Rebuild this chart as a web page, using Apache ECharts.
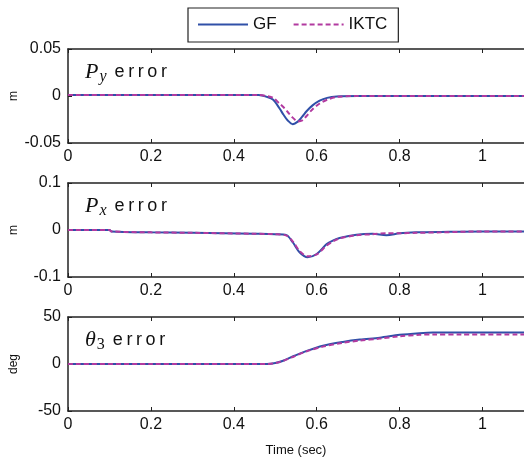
<!DOCTYPE html>
<html>
<head>
<meta charset="utf-8">
<script src="https://cdn.jsdelivr.net/npm/echarts@6/dist/echarts.min.js"></script>
<style>
  html, body { margin: 0; padding: 0; background: #fff; }
  #chart { width: 524px; height: 459px; }
</style>
</head>
<body>
<div id="chart"></div>
<script>
// time samples and error values
const tPy = [0, 0.2, 0.4, 0.46, 0.48, 0.495, 0.51, 0.52, 0.53, 0.542, 0.555, 0.565, 0.576, 0.59, 0.607, 0.625, 0.648, 0.7, 0.9, 1.1];
const gfPy = [0.001, 0.001, 0.001, 0.001, -0.001, -0.004, -0.013, -0.02, -0.026, -0.03, -0.027, -0.022, -0.016, -0.01, -0.005, -0.002, -0.0005, 0, 0, 0];
const iktcPy = [0.001, 0.001, 0.001, 0.001, 0, -0.002, -0.008, -0.012, -0.017, -0.023, -0.027, -0.026, -0.021, -0.014, -0.008, -0.004, -0.001, 0, 0, 0];

const tPx = [0, 0.1, 0.105, 0.2, 0.3, 0.45, 0.5, 0.527, 0.542, 0.559, 0.578, 0.6, 0.624, 0.64, 0.655, 0.696, 0.735, 0.768, 0.8, 0.84, 0.9, 1.0, 1.1];
const gfPx = [0, 0, -0.003, -0.005, -0.006, -0.008, -0.009, -0.011, -0.026, -0.048, -0.058, -0.051, -0.03, -0.022, -0.017, -0.01, -0.008, -0.011, -0.007, -0.005, -0.004, -0.003, -0.003];
const iktcPx = [0, 0, -0.003, -0.005, -0.006, -0.008, -0.009, -0.012, -0.024, -0.045, -0.056, -0.052, -0.033, -0.024, -0.018, -0.011, -0.009, -0.007, -0.007, -0.006, -0.005, -0.003, -0.003];

const tTh = [0, 0.2, 0.4, 0.48, 0.5, 0.519, 0.545, 0.576, 0.615, 0.663, 0.704, 0.752, 0.8, 0.848, 0.88, 0.95, 1.1];
const gfTh = [0, 0, 0, 0, 1, 3.5, 8.5, 14, 19.5, 23.5, 26, 28, 31, 32.8, 33.5, 33.5, 33.5];
const iktcTh = [0, 0, 0, 0, 1, 3.3, 8, 13.5, 18.5, 22.5, 25, 27, 29.5, 31, 31.5, 31.5, 31.5];

const yLimits = [0.05, 0.1, 50];
const yNames = ['m', 'm', 'deg'];
const xTicks = [0, 0.2, 0.4, 0.6, 0.8, 1];

const blue = '#3050a8';
const magenta = '#b23aa0';
const axisColor = '#222';
const tops = [49, 183, 317];

const zip = (t, v) => t.map((x, i) => [x, v[i]]);

const grids = tops.map(top => ({
  left: 68, right: 0, top: top, height: 94,
  containLabel: false, outerBoundsMode: 'none'
}));

const xAxes = [];
const yAxes = [];
tops.forEach((top, i) => {
  xAxes.push({
    type: 'value', gridIndex: i, min: 0, max: 1.1, interval: 0.2,
    axisLine: { onZero: false, lineStyle: { color: axisColor, width: 1.5 } },
    axisTick: { inside: true, length: 4, lineStyle: { color: axisColor } },
    splitLine: { show: false },
    axisLabel: {
      color: '#111', fontSize: 16, fontFamily: 'Liberation Sans, Arial', margin: 6,
      showMaxLabel: false,
      formatter: v => xTicks.includes(Math.round(v * 10) / 10) ? String(Math.round(v * 10) / 10) : ''
    },
    name: i === 2 ? 'Time (sec)' : '',
    nameLocation: 'middle', nameGap: 33,
    nameTextStyle: { color: '#111', fontSize: 13, fontFamily: 'Liberation Sans, Arial' }
  });
  xAxes.push({
    type: 'value', gridIndex: i, min: 0, max: 1.1, interval: 0.2, position: 'top',
    axisLine: { onZero: false, lineStyle: { color: axisColor, width: 1.5 } },
    axisTick: { inside: true, length: 4, lineStyle: { color: axisColor } },
    axisLabel: { show: false }, splitLine: { show: false }
  });
  yAxes.push({
    type: 'value', gridIndex: i, min: -yLimits[i], max: yLimits[i], interval: yLimits[i],
    axisLine: { show: true, onZero: false, lineStyle: { color: axisColor, width: 1.5 } },
    axisTick: { show: true, inside: true, length: 4, lineStyle: { color: axisColor } },
    splitLine: { show: false },
    axisLabel: { color: '#111', fontSize: 16, fontFamily: 'Liberation Sans, Arial', margin: 7 },
    name: yNames[i], nameLocation: 'middle', nameGap: 48, nameMoveOverlap: false,
    nameTextStyle: { color: '#111', fontSize: 12, fontFamily: 'Liberation Sans, Arial' }
  });
});

const gfData = [zip(tPy, gfPy), zip(tPx, gfPx), zip(tTh, gfTh)];
const iktcData = [zip(tPy, iktcPy), zip(tPx, iktcPx), zip(tTh, iktcTh)];

const series = [];
for (let i = 0; i < 3; i++) {
  series.push({
    name: 'GF', type: 'line', xAxisIndex: i * 2, yAxisIndex: i,
    data: gfData[i], symbol: 'none', smooth: 0.3,
    lineStyle: { color: blue, width: 2 }, itemStyle: { color: blue }
  });
  series.push({
    name: 'IKTC', type: 'line', xAxisIndex: i * 2, yAxisIndex: i,
    data: iktcData[i], symbol: 'none', smooth: 0.3,
    lineStyle: { color: magenta, width: 2, type: [5, 3] }, itemStyle: { color: magenta }
  });
}

const labelRich = {
  p: { fontFamily: 'Liberation Serif, Times New Roman', fontStyle: 'italic', fontWeight: 'normal', fontSize: 22, color: '#111' },
  sub: { fontFamily: 'Liberation Serif, Times New Roman', fontStyle: 'italic', fontWeight: 'normal', fontSize: 16, color: '#111', padding: [9, 0, 0, 1] },
  subn: { fontFamily: 'Liberation Serif, Times New Roman', fontWeight: 'normal', fontSize: 16, color: '#111', padding: [9, 0, 0, 1] },
  e: { fontFamily: 'Liberation Sans, Arial', fontWeight: 'normal', fontSize: 18, color: '#111', padding: [0, 0, 0, 8] }
};
const sp = '\u2009';
const err = ['e', 'r', 'r', 'o', 'r'].join(sp);
const panelLabels = [
  '{p|P}{sub|y}{e|' + err + '}',
  '{p|P}{sub|x}{e|' + err + '}',
  '{p|θ}{subn|3}{e|' + err + '}'
];

const chart = echarts.init(document.getElementById('chart'));
chart.setOption({
  animation: false,
  backgroundColor: '#fff',
  title: panelLabels.map((txt, i) => ({
    text: txt, left: 80, top: tops[i] + 6,
    textStyle: { fontWeight: 'normal', rich: labelRich }
  })),
  legend: {
    left: 188, top: 8, width: 211,
    data: ['GF', 'IKTC'],
    itemWidth: 50, itemHeight: 10, itemGap: 16,
    itemStyle: { opacity: 0 },
    padding: [8, 11, 9, 9],
    borderColor: '#222', borderWidth: 1.2,
    textStyle: { color: '#111', fontSize: 17, fontFamily: 'Liberation Sans, Arial' }
  },
  grid: grids,
  xAxis: xAxes,
  yAxis: yAxes,
  series: series
});
</script>
</body>
</html>
